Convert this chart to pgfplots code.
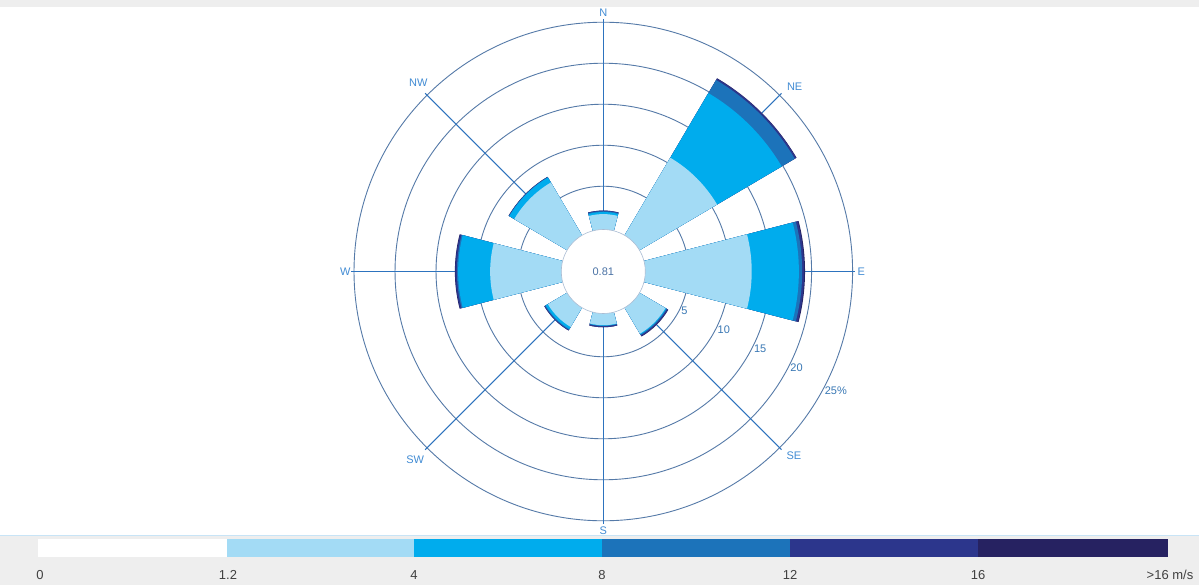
\documentclass[border=0pt]{standalone}
\usepackage{pgfplots}
\pgfplotsset{compat=1.18}
\usepackage{pgfplotstable}
\usepackage{fontspec}
\setmainfont{Liberation Sans}

% speed classes
\definecolor{binA}{RGB}{163,219,245}  % 1.2-4
\definecolor{binB}{RGB}{0,172,237}    % 4-8
\definecolor{binC}{RGB}{28,115,186}   % 8-12
\definecolor{binD}{RGB}{44,54,140}    % 12-16
\definecolor{binE}{RGB}{38,34,97}     % >16
\definecolor{ringcol}{RGB}{85,122,168}
\definecolor{spokecol}{RGB}{45,115,190}
\definecolor{lblblue}{RGB}{66,140,212}
\definecolor{panelgray}{RGB}{238,238,238}

% frequency (%) of each speed class per direction (angle from east, ccw)
\pgfplotstableread{
dir   s1     s2     s3     s4     s5
90    1.60   0.25   0.10   0.08   0.00
45    10.70  9.15   1.85   0.20   0.05
0     12.70  5.75   0.40   0.25   0.10
-45   3.40   0.10   0.10   0.15   0.05
-90   1.15   0.05   0.05   0.15   0.00
-135  2.45   0.30   0.10   0.10   0.00
180   8.40   3.90   0.15   0.20   0.05
135   7.20   0.70   0.05   0.05   0.00
}\roseData

\def\calmR{5.4}   % radial offset of the calm circle (in %)
\def\unitpt{4.1}  % length of 1 % in pt
\def\half{14.5}   % half width of a direction sector (deg)

% one pie sector of radius #2 (in %), colour #1
\newcommand\drawsector[2]{%
  \pgfmathsetmacro\Rpt{#2*\unitpt}%
  \edef\tmp{\noexpand\addplot[fill=#1, draw=none, data cs=polar, forget plot]
    coordinates {(\aone,#2)}
    arc[start angle=\aone, end angle=\atwo, radius=\Rpt pt] -- (axis cs:0,0) -- cycle;}%
  \tmp}

\begin{document}
\begin{tikzpicture}[x=0.5pt,y=0.5pt]
% panel background
\fill[white] (0,0) rectangle (1199,585);
\fill[panelgray] (0,578) rectangle (1199,585);
\fill[panelgray] (0,0) rectangle (1199,50);
\draw[line width=0.5pt, color={rgb,255:red,200;green,228;blue,246}] (0,50) -- (1199,50);

% speed class key
\fill[white] (38,28) rectangle (227,46);
\fill[binA] (227,28) rectangle (414,46);
\fill[binB] (414,28) rectangle (602,46);
\fill[binC] (602,28) rectangle (790,46);
\fill[binD] (790,28) rectangle (978,46);
\fill[binE] (978,28) rectangle (1168,46);
\begin{scope}[every node/.style={font=\fontsize{6.5}{7}\selectfont, text=black!75, inner sep=0pt}]
\node at (40,10) {0};
\node at (228,10) {1.2};
\node at (414,10) {4};
\node at (602,10) {8};
\node at (790,10) {12};
\node at (978,10) {16};
\node at (1170,10) {>16 m/s};
\end{scope}

\begin{axis}[
  at={(301.65pt,156.75pt)}, anchor=origin,
  x=4.1pt, y=4.1pt,
  xmin=-31, xmax=31, ymin=-31, ymax=31,
  hide axis, clip=false,
]
% rings
\pgfplotsinvokeforeach{5,10,15,20,25}{
  \draw[ringcol, line width=0.45pt] (axis cs:0,0) circle[radius={(\calmR+#1)*\unitpt pt}];
}
% spokes
\pgfplotsinvokeforeach{0,45,90,135,180,225,270,315}{
  \draw[spokecol, line width=0.5pt] (axis cs:0,0) -- ++(#1:126pt);
}

% sectors, drawn from the outer class inwards
\pgfplotsinvokeforeach{0,...,7}{
  \pgfplotstablegetelem{#1}{dir}\of\roseData \let\d\pgfplotsretval
  \pgfplotstablegetelem{#1}{s1}\of\roseData \let\sA\pgfplotsretval
  \pgfplotstablegetelem{#1}{s2}\of\roseData \let\sB\pgfplotsretval
  \pgfplotstablegetelem{#1}{s3}\of\roseData \let\sC\pgfplotsretval
  \pgfplotstablegetelem{#1}{s4}\of\roseData \let\sD\pgfplotsretval
  \pgfplotstablegetelem{#1}{s5}\of\roseData \let\sE\pgfplotsretval
  \pgfmathsetmacro\rA{\calmR+\sA}
  \pgfmathsetmacro\rB{\rA+\sB}
  \pgfmathsetmacro\rC{\rB+\sC}
  \pgfmathsetmacro\rD{\rC+\sD}
  \pgfmathsetmacro\rE{\rD+\sE}
  \pgfmathsetmacro\aone{\d-\half}
  \pgfmathsetmacro\atwo{\d+\half}
  \drawsector{binE}{\rE}
  \drawsector{binD}{\rD}
  \drawsector{binC}{\rC}
  \drawsector{binB}{\rB}
  \drawsector{binA}{\rA}
}

% calm circle
\fill[white] (axis cs:0,0) circle[radius=21pt];
\draw[ringcol!50, line width=0.3pt] (axis cs:0,0) circle[radius=21pt];
\node[font=\fontsize{5.5}{6}\selectfont, text={rgb,255:red,75;green,115;blue,165}] at (axis cs:0,0) {0.81};

% radial scale
\pgfplotsinvokeforeach{5,10,15,20}{
  \path (axis cs:0,0) ++(-27.5:{(\calmR+#1)*\unitpt pt}) node[anchor=west, inner sep=1pt, font=\fontsize{5.5}{6}\selectfont, text=lblblue!85!black] {#1};
}
\path (axis cs:0,0) ++(-28.5:{(\calmR+25)*\unitpt pt}) node[anchor=west, inner sep=1pt, font=\fontsize{5.5}{6}\selectfont, text=lblblue!85!black] {25\%};

% direction names
\begin{scope}[every node/.style={font=\fontsize{5.5}{6}\selectfont, text=lblblue, inner sep=0pt}]
\path (axis cs:0,0) ++(90:129.5pt) node {N};
\path (axis cs:0,0) ++(270:129.5pt) node {S};
\path (axis cs:0,0) ++(0:129pt) node {E};
\path (axis cs:0,0) ++(180:129pt) node {W};
\path (axis cs:0,0) ++(44:133pt) node {NE};
\path (axis cs:0,0) ++(134.5:132pt) node {NW};
\path (axis cs:0,0) ++(-44:132.5pt) node {SE};
\path (axis cs:0,0) ++(-135:133pt) node {SW};
\end{scope}
\end{axis}
\pgfresetboundingbox
\useasboundingbox (0,0) rectangle (1199,585);
\end{tikzpicture}
\end{document}
